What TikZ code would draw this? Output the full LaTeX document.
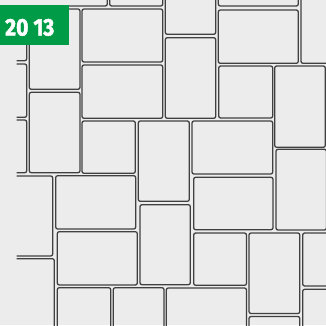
\documentclass[tikz,border=0pt]{standalone}
\usepackage{fontspec}
\newfontfamily\tagfont{Fira Sans}[BoldFeatures={FakeBold=2}]
\definecolor{pavegray}{RGB}{236,236,236}
\definecolor{taggreen}{RGB}{0,155,70}

\begin{document}
\begin{tikzpicture}[x=1pt,y=-1pt,
    stone/.style={draw=black!75, line width=1.3pt, rounded corners=2pt}]
    \useasboundingbox (0,0) rectangle (326,325);
    \fill[pavegray] (0,0) rectangle (326,325);

    \begin{scope}
    \clip (16.7,0) rectangle (326,325);
    % cut off at the left
    \draw[stone] (-20,9) rectangle (26.7,60.7);
    \draw[stone] (-20,64) rectangle (26.7,117.3);
    \draw[stone] (-20,120) rectangle (26.7,172.7);
    \draw[stone] (-20,176) rectangle (52.7,256);
    \draw[stone] (-20,258.7) rectangle (54.3,340);
    % cut off at the top
    \draw[stone] (-20,-50) rectangle (107.3,6);
    \draw[stone] (109.7,-50) rectangle (162.7,6);
    \draw[stone] (165.3,-50) rectangle (215.7,34.3);
    \draw[stone] (218.3,-50) rectangle (298.3,6);
    \draw[stone] (301,-50) rectangle (360,63.3);
    % whole stones
    \draw[stone] (29.3,9) rectangle (80,89.3);
    \draw[stone] (82,9) rectangle (162.7,62);
    \draw[stone] (218.3,10) rectangle (298.3,63.3);
    \draw[stone] (165.3,37.7) rectangle (215.7,118.3);
    \draw[stone] (82,65) rectangle (162.7,118.3);
    \draw[stone] (218.7,66) rectangle (272.7,118);
    \draw[stone] (274.7,66) rectangle (325.3,147.3);
    \draw[stone] (29.3,92.3) rectangle (80,172.7);
    \draw[stone] (82,121) rectangle (135.3,173.3);
    \draw[stone] (138.3,121) rectangle (189.3,201.3);
    \draw[stone] (192,121) rectangle (272.7,174);
    \draw[stone] (276,149.3) rectangle (326.5,230);
    \draw[stone] (55.7,175.7) rectangle (135.7,229);
    \draw[stone] (193.7,177.3) rectangle (273,229.7);
    \draw[stone] (140,204.7) rectangle (190.3,284.7);
    \draw[stone] (57.3,231.7) rectangle (137.3,285);
    \draw[stone] (193.7,233) rectangle (246.5,285.3);
    \draw[stone] (249,233) rectangle (299.8,313.5);
    \draw[stone] (302.7,233) rectangle (360,286);
    % cut off at the bottom
    \draw[stone] (57.3,287.7) rectangle (110.7,400);
    \draw[stone] (113.3,287.7) rectangle (164,400);
    \draw[stone] (166.3,288) rectangle (246.5,400);
    \draw[stone] (249,316.5) rectangle (299.8,400);
    \draw[stone] (302.7,289.3) rectangle (360,400);
    \end{scope}

    \node (tag) [fill=taggreen, minimum width=69, minimum height=40, inner sep=0, anchor=north west] at (0,5) {};
    \node (year) [anchor=base west, text=white, inner sep=0] at (5,35.5)
        {\tagfont\bfseries\fontsize{24}{26}\selectfont\scalebox{0.88}[1]{20 13}};
\end{tikzpicture}
\end{document}
